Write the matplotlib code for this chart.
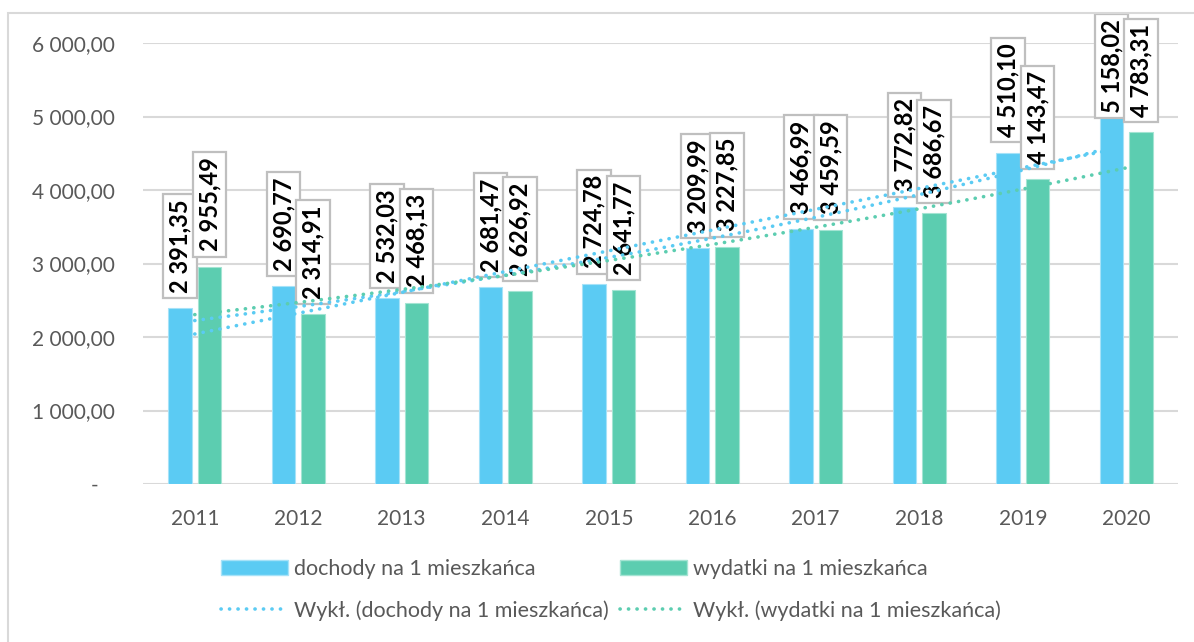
import numpy as np
import matplotlib
matplotlib.use("Agg")
import matplotlib.pyplot as plt
from matplotlib.patches import Rectangle, Patch
from matplotlib.lines import Line2D

years = ["2011", "2012", "2013", "2014", "2015", "2016", "2017", "2018", "2019", "2020"]
dochody = [2391.35, 2690.77, 2532.03, 2681.47, 2724.78, 3209.99, 3466.99, 3772.82, 4510.10, 5158.02]
wydatki = [2955.49, 2314.91, 2468.13, 2626.92, 2641.77, 3227.85, 3459.59, 3686.67, 4143.47, 4783.31]

label_doch = "dochody na 1 mieszkańca"
label_wyd = "wydatki na 1 mieszkańca"

BLUE = "#5BCBF3"
GREEN = "#5CCDB0"
GRAY = "#595959"
GRID = "#D9D9D9"

plt.rcParams["font.family"] = ["Lato", "DejaVu Sans"]

W, H, DPI = 1194, 642, 100
fig = plt.figure(figsize=(W / DPI, H / DPI), dpi=DPI)
ax = fig.add_axes([143 / W, 1 - 484 / H, (1178 - 143) / W, (484 - 43) / H])

x = np.arange(len(years))
bw = 0.23
off = 0.142

ax.bar(x - off, dochody, bw, color=BLUE, edgecolor="#A6E2F8", linewidth=0.8, zorder=2)
ax.bar(x + off, wydatki, bw, color=GREEN, edgecolor="#A4E4D3", linewidth=0.8, zorder=2)


def fmt(v):
    return f"{v:,.2f}".replace(",", " ").replace(".", ",")


anns = []
for i in range(len(years)):
    for xs, vals, z in ((x - off, dochody, 4), (x + off, wydatki, 5)):
        a = ax.annotate(fmt(vals[i]), xy=(xs[i], vals[i]), xytext=(0, 11),
                        textcoords="offset points", rotation=90, ha="center", va="bottom",
                        fontsize=17, fontweight="bold", color="black", zorder=z,
                        annotation_clip=False,
                        bbox=dict(boxstyle="square,pad=0.22", fc="white", ec="#BFBFBF", lw=1.6))
        anns.append(a)

# trend lines (fitted on x = 1..10 like excel)
t = np.arange(1, len(years) + 1)
tt = np.linspace(1, len(years), 200)
dots = (0, (0.05, 2.3))
k1, c1 = np.polyfit(t, np.log(dochody), 1)
k2, c2 = np.polyfit(t, np.log(wydatki), 1)
l1, l0 = np.polyfit(t, dochody, 1)
ax.plot(tt - 1, np.exp(c1 + k1 * tt), color=BLUE, lw=2.6, linestyle=dots,
        dash_capstyle="round", zorder=6)
ax.plot(tt - 1, l0 + l1 * tt, color=BLUE, lw=2.6, linestyle=dots,
        dash_capstyle="round", zorder=6)
ax.plot(tt - 1, np.exp(c2 + k2 * tt), color=GREEN, lw=2.6, linestyle=dots,
        dash_capstyle="round", zorder=6)

ax.set_xlim(-0.5, len(years) - 0.5)
ax.set_ylim(0, 6000)
ticks = np.arange(0, 6001, 1000)
ax.set_yticks(ticks)
ax.set_yticklabels(["-   " if v == 0 else fmt(v) for v in ticks])
ax.set_xticks(x)
ax.set_xticklabels(years)
ax.tick_params(axis="both", length=0, labelsize=15, labelcolor=GRAY)
ax.tick_params(axis="y", pad=20)
ax.tick_params(axis="x", pad=18)
ax.grid(axis="y", color=GRID, lw=1.5, zorder=0)
ax.set_axisbelow(True)
for s in ax.spines.values():
    s.set_visible(False)

handles = [
    Patch(facecolor=BLUE, edgecolor="#A6E2F8"),
    Line2D([0], [0], color=BLUE, lw=2.6, linestyle=dots, dash_capstyle="round"),
    Patch(facecolor=GREEN, edgecolor="#A4E4D3"),
    Line2D([0], [0], color=GREEN, lw=2.6, linestyle=dots, dash_capstyle="round"),
]
labels = [label_doch, "Wykł. (" + label_doch + ")", label_wyd, "Wykł. (" + label_wyd + ")"]
leg = fig.legend(handles, labels, ncol=2, loc="center", bbox_to_anchor=(611 / W, 1 - 590 / H),
                 frameon=False, fontsize=15.5, handlelength=3.1, handletextpad=0.3,
                 columnspacing=0.5, labelspacing=0.95)
for txt in leg.get_texts():
    txt.set_color(GRAY)

# outer chart frame
fig.add_artist(Rectangle((8 / W, -0.1), 1.2, 1.1 - 13 / H, transform=fig.transFigure,
                         fill=False, ec=GRID, lw=1.5))

# keep label boxes inside the chart area
fig.canvas.draw()
r = fig.canvas.get_renderer()
limit = H - 14
for a in anns:
    bb = a.get_bbox_patch().get_window_extent(r)
    if bb.y1 > limit:
        ox, oy = a.xyann
        a.xyann = (ox, oy - (bb.y1 - limit) * 72 / DPI)

fig.savefig("out.png", dpi=DPI)
